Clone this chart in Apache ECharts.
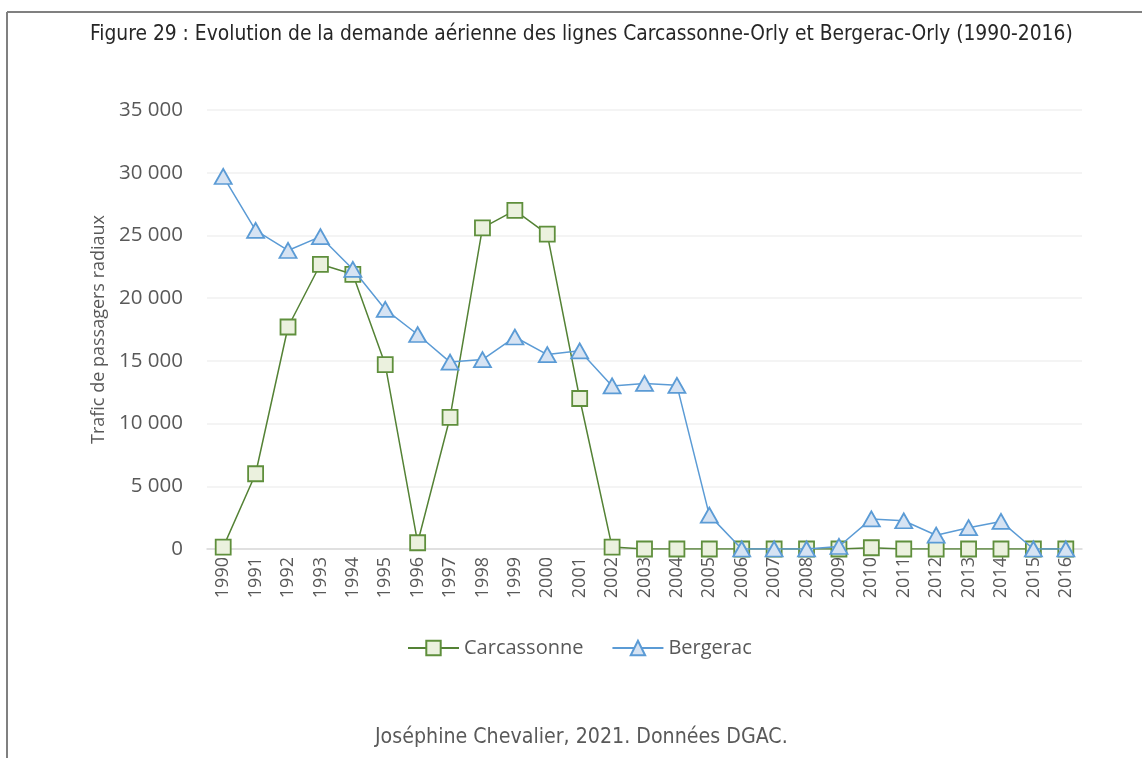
<!DOCTYPE html>
<html>
<head>
<meta charset="utf-8">
<script src="https://cdn.jsdelivr.net/npm/echarts@6/dist/echarts.min.js"></script>
<style>
  html, body { margin: 0; padding: 0; background: #ffffff; }
  #chart { width: 1142px; height: 758px; }
</style>
</head>
<body>
<div id="chart"></div>
<script>
// Années (catégories de l'axe horizontal)
const years = ['1990','1991','1992','1993','1994','1995','1996','1997','1998','1999',
  '2000','2001','2002','2003','2004','2005','2006','2007','2008','2009',
  '2010','2011','2012','2013','2014','2015','2016'];

// Trafic de passagers radiaux, ligne Carcassonne-Orly
const carcassonne = [150, 6000, 17700, 22700, 21900, 14700, 500, 10500, 25600, 27000,
  25100, 12000, 150, 0, 0, 0, 0, 0, 0, 0,
  100, 0, 0, 0, 0, 0, 0];

// Trafic de passagers radiaux, ligne Bergerac-Orly
const bergerac = [29700, 25400, 23800, 24900, 22300, 19100, 17100, 14900, 15100, 16900,
  15500, 15800, 13000, 13200, 13050, 2700, 0, 0, 0, 200,
  2400, 2250, 1100, 1700, 2200, 0, 0];

const seriesNames = ['Carcassonne', 'Bergerac'];

const titleText = 'Figure 29 : Evolution de la demande aérienne des lignes Carcassonne-Orly et Bergerac-Orly (1990-2016)';
const sourceText = 'Joséphine Chevalier, 2021. Données DGAC.';
const yAxisTitle = 'Trafic de passagers radiaux';

const textGray = '#595959';
const labelFont = '"Open Sans", "DejaVu Sans", sans-serif';
const narrowFont = '"Liberation Sans Narrow", "DejaVu Sans Condensed", "Open Sans", sans-serif';

function formatThousands(v) {
  return String(v).replace(/\B(?=(\d{3})+(?!\d))/g, ' ');
}

const chart = echarts.init(document.getElementById('chart'), null, { renderer: 'canvas' });

chart.setOption({
  backgroundColor: '#ffffff',
  animation: false,
  title: {
    text: titleText,
    left: 85,
    top: 19,
    textStyle: { fontFamily: narrowFont, fontSize: 20.8, fontWeight: 'normal', color: '#262626' }
  },
  graphic: [
    // cadre de la figure (bords haut et gauche)
    { type: 'line', shape: { x1: 7, y1: 12, x2: 1142, y2: 12 }, style: { stroke: '#808080', lineWidth: 2 } },
    { type: 'line', shape: { x1: 7, y1: 12, x2: 7, y2: 758 }, style: { stroke: '#808080', lineWidth: 2 } },
    {
      type: 'text', left: 375, top: 727,
      style: { text: sourceText, fontFamily: narrowFont, fontSize: 21.2, fill: textGray }
    }
  ],
  legend: {
    data: seriesNames,
    left: 402,
    top: 633,
    itemWidth: 51,
    itemHeight: 18,
    itemGap: 28,
    textStyle: { fontFamily: labelFont, fontSize: 20, color: textGray }
  },
  grid: { left: 207, right: 60, top: 110, bottom: 209 },
  xAxis: {
    type: 'category',
    data: years,
    boundaryGap: true,
    axisLine: { lineStyle: { color: '#d9d9d9', width: 1.5 } },
    axisTick: { show: false },
    axisLabel: {
      rotate: 90,
      margin: 8,
      fontFamily: labelFont,
      fontSize: 18,
      color: textGray
    }
  },
  yAxis: {
    type: 'value',
    min: 0,
    max: 35000,
    interval: 5000,
    name: yAxisTitle,
    nameLocation: 'middle',
    nameGap: 96,
    nameTextStyle: { fontFamily: labelFont, fontSize: 18, color: textGray },
    axisLine: { show: false },
    axisTick: { show: false },
    splitLine: { lineStyle: { color: '#f0f0f0', width: 1.5 } },
    axisLabel: {
      margin: 24,
      fontFamily: labelFont,
      fontSize: 20.5,
      color: textGray,
      formatter: formatThousands
    }
  },
  series: [
    {
      name: seriesNames[0],
      type: 'line',
      data: carcassonne,
      symbol: 'rect',
      symbolSize: 15,
      lineStyle: { color: '#548235', width: 1.5 },
      itemStyle: { color: '#ebf1de', borderColor: '#5f8f3c', borderWidth: 1.8 },
      z: 2
    },
    {
      name: seriesNames[1],
      type: 'line',
      data: bergerac,
      symbol: 'triangle',
      symbolSize: [17, 15],
      lineStyle: { color: '#5b9bd5', width: 1.5 },
      itemStyle: { color: '#d6e3f3', borderColor: '#5b9bd5', borderWidth: 1.8 },
      z: 3
    }
  ]
});
</script>
</body>
</html>
